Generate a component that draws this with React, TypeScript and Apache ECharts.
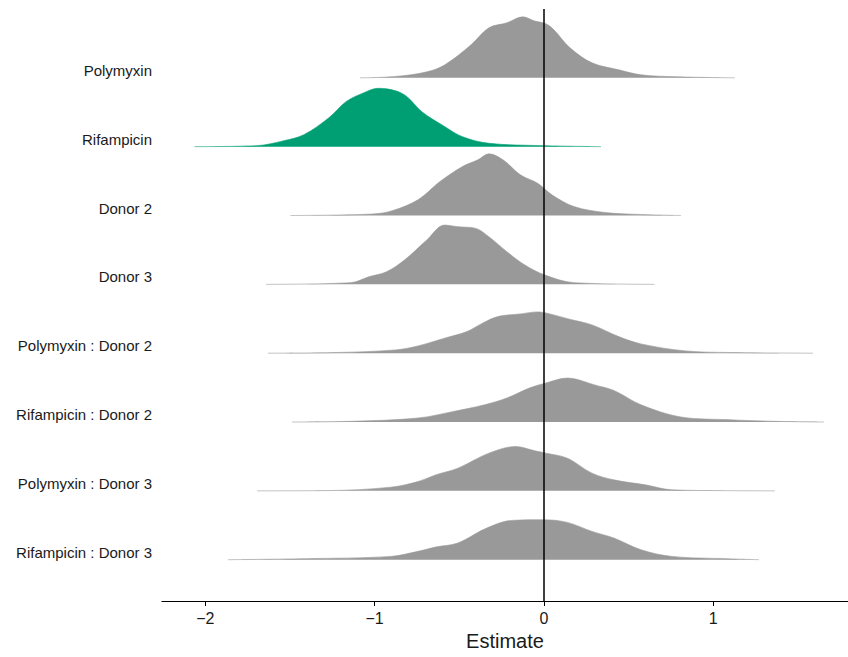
import React, { useEffect, useRef } from "react";
import * as echarts from "echarts";

// Row labels, top to bottom
const terms = [
  "Polymyxin",
  "Rifampicin",
  "Donor 2",
  "Donor 3",
  "Polymyxin : Donor 2",
  "Rifampicin : Donor 2",
  "Polymyxin : Donor 3",
  "Rifampicin : Donor 3",
];

// Density outlines (estimate, density)
const polymyxinX = [-1.087, -0.88, -0.691, -0.585, -0.431, -0.325, -0.219, -0.124, -0.059, 0.012, 0.059, 0.154, 0.284, 0.443, 0.573, 0.786, 1.128];
const polymyxinD = [0, 0.019, 0.087, 0.189, 0.479, 0.726, 0.799, 0.886, 0.828, 0.784, 0.697, 0.436, 0.218, 0.116, 0.044, 0.015, 0];

const rifampicinX = [-2.064, -1.695, -1.536, -1.418, -1.27, -1.169, -1.063, -0.98, -0.877, -0.809, -0.721, -0.585, -0.481, -0.325, -0.006, 0.337];
const rifampicinD = [0, 0.015, 0.087, 0.174, 0.421, 0.654, 0.784, 0.848, 0.813, 0.726, 0.508, 0.29, 0.145, 0.049, 0.015, 0];

const donor2X = [-1.497, -1.01, -0.892, -0.744, -0.614, -0.481, -0.39, -0.325, -0.242, -0.139, -0.035, 0.047, 0.177, 0.36, 0.573, 0.809];
const donor2D = [0, 0.022, 0.073, 0.228, 0.494, 0.712, 0.809, 0.896, 0.809, 0.591, 0.465, 0.301, 0.131, 0.044, 0.015, 0];

const donor3X = [-1.642, -1.14, -1.034, -0.93, -0.824, -0.692, -0.587, -0.508, -0.402, -0.325, -0.219, -0.112, 0.006, 0.177, 0.653];
const donor3D = [0, 0.025, 0.11, 0.183, 0.353, 0.644, 0.861, 0.837, 0.813, 0.691, 0.474, 0.28, 0.135, 0.025, 0];

const polyD2X = [-1.63, -1.22, -0.877, -0.744, -0.587, -0.455, -0.363, -0.272, -0.139, -0.035, 0.018, 0.151, 0.284, 0.442, 0.573, 0.837, 1.099, 1.589];
const polyD2D = [0, 0.01, 0.048, 0.106, 0.218, 0.314, 0.436, 0.532, 0.571, 0.6, 0.581, 0.494, 0.411, 0.241, 0.135, 0.033, 0.01, 0];

const rifD2X = [-1.488, -1.14, -0.744, -0.534, -0.35, -0.219, -0.086, 0.012, 0.138, 0.204, 0.295, 0.413, 0.573, 0.809, 1.099, 1.364, 1.654];
const rifD2D = [0, 0.01, 0.058, 0.154, 0.251, 0.349, 0.494, 0.567, 0.639, 0.614, 0.542, 0.459, 0.251, 0.073, 0.033, 0.01, 0];

const polyD3X = [-1.695, -1.272, -0.904, -0.744, -0.64, -0.508, -0.325, -0.165, -0.059, 0.012, 0.138, 0.284, 0.413, 0.6, 0.756, 1.075, 1.364];
const polyD3D = [0, 0.004, 0.054, 0.135, 0.232, 0.33, 0.548, 0.644, 0.585, 0.548, 0.475, 0.257, 0.16, 0.087, 0.015, 0.003, 0];

const rifD3X = [-1.866, -1.406, -0.904, -0.744, -0.64, -0.508, -0.35, -0.191, -0.006, 0.138, 0.284, 0.413, 0.573, 0.756, 1.075, 1.27];
const rifD3D = [0, 0.015, 0.048, 0.121, 0.184, 0.243, 0.446, 0.571, 0.581, 0.542, 0.411, 0.315, 0.145, 0.048, 0.015, 0];

const densityX = [polymyxinX, rifampicinX, donor2X, donor3X, polyD2X, rifD2X, polyD3X, rifD3X];
const densityD = [polymyxinD, rifampicinD, donor2D, donor3D, polyD2D, rifD2D, polyD3D, rifD3D];

const highlighted = ["Rifampicin"];
const xTicks = [-2, -1, 0, 1];

const FONT = "'Liberation Sans', Arial, Helvetica, sans-serif";
const GREY = "#999999";
const GREEN = "#009E73";

export default function App() {
  const ref = useRef<HTMLDivElement>(null);

  useEffect(() => {
    if (!ref.current) return;
    const chart = echarts.init(ref.current, undefined, { renderer: "svg" });
    const n = terms.length;
    const baselines = terms.map((_, i) => 0.6 + (n - 1 - i));

    const series: any[] = terms.map((name, i) => {
      const base = baselines[i];
      const color = highlighted.includes(name) ? GREEN : GREY;
      const s: any = {
        name,
        type: "line",
        data: densityX[i].map((x, j) => [x, base + densityD[i][j]]),
        symbol: "none",
        showSymbol: false,
        smooth: 0.35,
        lineStyle: { width: 0.6, color },
        areaStyle: { color, opacity: 1, origin: base },
        silent: true,
        z: 2,
      };
      return s;
    });
    series.push({
      type: "line",
      data: [],
      silent: true,
      z: 5,
      markLine: {
        silent: true,
        symbol: ["none", "none"],
        label: { show: false },
        lineStyle: { color: "#000000", width: 1.5, type: "solid" },
        data: [{ xAxis: 0 }],
        animation: false,
      },
    });

    chart.setOption({
      animation: false,
      textStyle: { fontFamily: FONT },
      grid: { left: 162, right: 0, top: 9, bottom: 56 },
      xAxis: {
        type: "value",
        min: -2.256,
        max: 1.796,
        name: "Estimate",
        nameLocation: "middle",
        nameGap: 30,
        nameTextStyle: { fontSize: 20, color: "#1a1a1a", fontFamily: FONT },
        axisLine: { show: true, onZero: false, lineStyle: { color: "#000000", width: 1.2 } },
        axisTick: { show: true, length: 5, customValues: xTicks, lineStyle: { color: "#000000", width: 1 } },
        axisLabel: {
          customValues: xTicks,
          fontSize: 16,
          color: "#1a1a1a",
          margin: 9,
          fontFamily: FONT,
          formatter: (v: number) => (v < 0 ? "\u2212" + Math.abs(v) : String(v)),
        },
        splitLine: { show: false },
      },
      yAxis: {
        type: "value",
        min: 0,
        max: 8.6,
        axisLine: { show: false },
        axisTick: { show: false },
        splitLine: { show: false },
        axisLabel: {
          customValues: baselines,
          fontSize: 15,
          color: "#1a1a1a",
          margin: 10,
          verticalAlign: "bottom",
          fontFamily: FONT,
          formatter: (v: number) => {
            let best = 0;
            let bd = Infinity;
            baselines.forEach((b, i) => {
              const d = Math.abs(b - v);
              if (d < bd) {
                bd = d;
                best = i;
              }
            });
            return terms[best];
          },
        },
      },
      series,
    });

    return () => chart.dispose();
  }, []);

  return (
    <div
      ref={ref}
      style={{ position: "fixed", left: 0, top: 0, width: 848, height: 657, background: "#ffffff" }}
    />
  );
}
